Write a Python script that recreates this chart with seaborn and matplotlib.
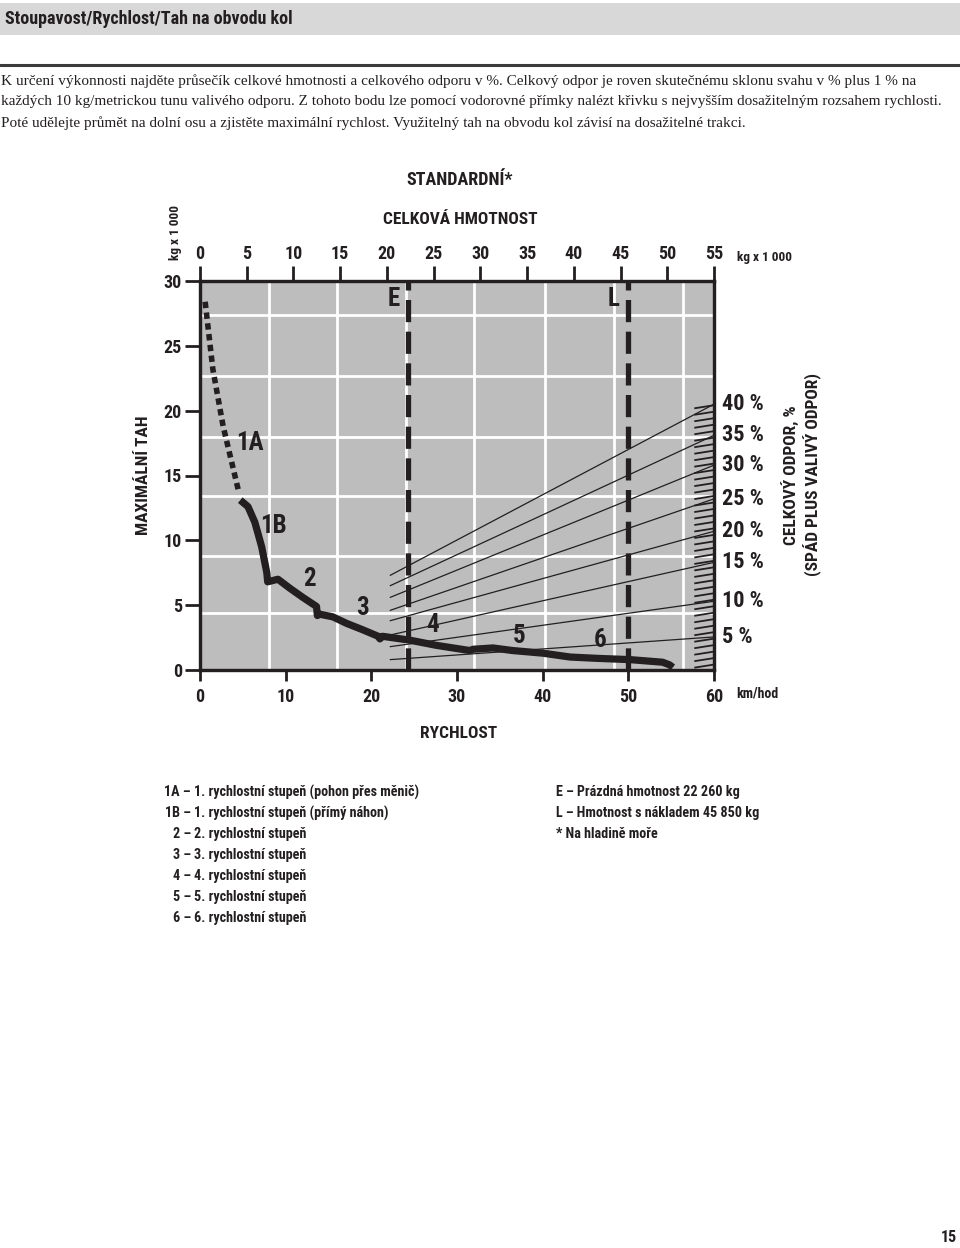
import os
import numpy as np
import pandas as pd
import matplotlib
matplotlib.use("Agg")
import matplotlib.pyplot as plt
import seaborn as sns
from matplotlib import font_manager
from matplotlib.font_manager import FontProperties
from matplotlib.patches import Rectangle
from matplotlib.lines import Line2D

# ---------------- data ----------------
speed_ticks = [0, 10, 20, 30, 40, 50, 60]
force_ticks = [0, 5, 10, 15, 20, 25, 30]
mass_ticks = [0, 5, 10, 15, 20, 25, 30, 35, 40, 45, 50, 55]

grid_speed = [8, 16, 24, 32, 40.3, 48.3, 56.4]
grid_force = [4.4, 8.8, 13.4, 18.0, 22.7, 27.4]

# 1A (torque converter) – dotted
gear1a_speed = [0.6, 1.5, 2.7, 4.5]
gear1a_force = [28.4, 23.2, 18.8, 13.8]

# 1B .. 6 – solid envelope
main_speed = [4.7, 5.6, 6.4, 7.2, 7.8, 7.8,
              7.9, 9.1, 10.5, 12.0, 13.6, 13.7,
              14.0, 15.5, 17.1, 19.0, 20.8, 21.0,
              21.3, 24.5, 27.6, 31.5,
              31.9, 34.2, 36.5, 40.0, 43.2,
              46.3, 50.2, 54.0, 54.8, 55.2]
main_force = [13.1, 12.6, 11.4, 9.5, 8.3, 6.7,
              6.8, 7.0, 6.3, 5.6, 4.9, 4.2,
              4.3, 4.1, 3.6, 3.1, 2.6, 2.4,
              2.6, 2.3, 1.9, 1.5,
              1.6, 1.7, 1.5, 1.3, 1.0,
              0.9, 0.8, 0.6, 0.4, 0.2]

gear_labels = ["1A", "1B", "2", "3", "4", "5", "6"]
gear_label_speed = [5.8, 8.6, 12.8, 19.0, 27.1, 37.3, 46.7]
gear_label_force = [17.5, 11.1, 7.0, 4.8, 3.5, 2.6, 2.3]

resist_pct = ["40 %", "35 %", "30 %", "25 %", "20 %", "15 %", "10 %", "5 %"]
resist_start_speed = 22.2
resist_end_speed = 60.0
resist_start_force = [7.3, 6.5, 5.6, 4.6, 3.8, 2.7, 1.8, 0.8]
resist_end_force = [20.5, 18.1, 15.8, 13.2, 10.7, 8.3, 5.3, 2.55]

mass_empty = 22.26   # E
mass_loaded = 45.85  # L

legend_left_keys = ["1A", "1B", "2", "3", "4", "5", "6"]
legend_left_text = ["1. rychlostní stupeň (pohon přes měnič)",
                    "1. rychlostní stupeň (přímý náhon)",
                    "2. rychlostní stupeň", "3. rychlostní stupeň",
                    "4. rychlostní stupeň", "5. rychlostní stupeň",
                    "6. rychlostní stupeň"]
legend_right_text = ["E – Prázdná hmotnost 22 260 kg",
                     "L – Hmotnost s nákladem 45 850 kg",
                     "* Na hladině moře"]

intro_lines = [
    "K určení výkonnosti najděte průsečík celkové hmotnosti a celkového odporu v %. Celkový odpor je roven skutečnému sklonu svahu v % plus 1 % na",
    "každých 10 kg/metrickou tunu valivého odporu. Z tohoto bodu lze pomocí vodorovné přímky nalézt křivku s nejvyšším dosažitelným rozsahem rychlosti.",
    "Poté udělejte průmět na dolní osu a zjistěte maximální rychlost. Využitelný tah na obvodu kol závisí na dosažitelné trakci.",
]

# ---------------- style ----------------
sns.set_theme(style="white")
plt.rcParams["font.family"] = ["Roboto", "DejaVu Sans"]

# look for a bold condensed face among installed fonts
_files = set(f.fname for f in font_manager.fontManager.ttflist)
try:
    _files |= set(font_manager.findSystemFonts())
except Exception:
    pass
_prefs = ["liberationsansnarrow-bold.", "robotocondensed-bold.", "opensans_condensed-bold",
          "opensanscondensed-bold", "dejavusanscondensed-bold.", "notosans-condensedbold",
          "notosanscondensed-bold", "roboto_condensed-bold"]
COND_FILE = None
for p in _prefs:
    for f in sorted(_files):
        if p in os.path.basename(f).lower().replace(" ", ""):
            COND_FILE = f
            break
    if COND_FILE:
        break


def FP(size):
    if COND_FILE:
        return FontProperties(fname=COND_FILE, size=size)
    return FontProperties(family=["Roboto", "DejaVu Sans"], weight="bold", size=size)


SHRINK = 1.0 if COND_FILE else 0.86

INK = "#231f20"
PLOT_BG = "#bdbdbd"

W, H = 960, 1248
fig = plt.figure(figsize=(W / 100, H / 100), dpi=100)
fig.patch.set_facecolor("white")


def fx(x):
    return x / W


def fy(y):
    return 1 - y / H


def ftext(x, y, s, size, **kw):
    return fig.text(fx(x), fy(y), s, fontproperties=FP(size * SHRINK), color=INK, **kw)


# header band + rule
fig.patches.append(Rectangle((0, fy(35)), 1, 32 / H, transform=fig.transFigure,
                             facecolor="#d8d8d8", edgecolor="none", zorder=0))
fig.add_artist(Line2D([0, 1], [fy(65), fy(65)], transform=fig.transFigure,
                      color="#3a3a3a", lw=2.2))
ftext(5, 19, "Stoupavost/Rychlost/Tah na obvodu kol", 13, va="center", ha="left")
for i, line in enumerate(intro_lines):
    fig.text(fx(1), fy(81 + 21 * i), line, fontsize=10.95, fontweight="normal",
             family=["Liberation Serif", "DejaVu Serif"], color=INK,
             va="center", ha="left")

# ---------------- main axes ----------------
ax = fig.add_axes([fx(200), fy(670), 514 / W, 389 / H])
ax.set_facecolor(PLOT_BG)
ax.set_xlim(0, 60)
ax.set_ylim(0, 30)

ax.set_xticks(speed_ticks)
ax.set_yticks(force_ticks)
ax.set_xticks(grid_speed, minor=True)
ax.set_yticks(grid_force, minor=True)
ax.grid(False, which="major")
ax.grid(True, which="minor", color="white", lw=2.0, zorder=0)
ax.set_axisbelow(True)
ax.tick_params(axis="x", which="major", direction="out", length=8, width=2,
               color=INK, labelcolor=INK, pad=5, bottom=True)
ax.tick_params(axis="y", which="major", direction="out", length=11, width=2,
               color=INK, labelcolor=INK, pad=2, left=True)
ax.tick_params(which="minor", length=0)
for lbl in ax.get_xticklabels() + ax.get_yticklabels():
    lbl.set_fontproperties(FP(13 * SHRINK))
for sp in ax.spines.values():
    sp.set_linewidth(2.3)
    sp.set_color(INK)

# resistance lines
for s0, s1 in zip(resist_start_force, resist_end_force):
    df = pd.DataFrame({"v": [resist_start_speed, resist_end_speed], "f": [s0, s1]})
    sns.lineplot(data=df, x="v", y="f", ax=ax, color=INK, lw=0.9, zorder=3)

# hatch on right edge
for yv in np.arange(0.3, 20.6, 0.5):
    ax.plot([57.7, 60], [yv - 0.12, yv + 0.12], color=INK, lw=1.3, zorder=3,
            solid_capstyle="butt")

# curves
df1a = pd.DataFrame({"v": gear1a_speed, "f": gear1a_force})
sns.lineplot(data=df1a, x="v", y="f", ax=ax, color=INK, lw=4.0, zorder=5,
             sort=False)
ax.lines[-1].set_dashes((1.15, 0.8))
ax.lines[-1].set_dash_capstyle("butt")
dfm = pd.DataFrame({"v": main_speed, "f": main_force})
sns.lineplot(data=dfm, x="v", y="f", ax=ax, color=INK, lw=5.2, zorder=5,
             sort=False)
ax.lines[-1].set_solid_joinstyle("round")
ax.lines[-1].set_solid_capstyle("butt")

for lab, sv, fv in zip(gear_labels, gear_label_speed, gear_label_force):
    ax.text(sv, fv, lab, fontproperties=FP(18 * SHRINK), color=INK, ha="center",
            va="center", zorder=6)

for lab, fv in zip(resist_pct, resist_end_force):
    ax.text(1.015, fv, lab, transform=ax.get_yaxis_transform(),
            fontproperties=FP(16 * SHRINK), color=INK, ha="left", va="center",
            clip_on=False)

ax.set_xlabel("")
ax.set_ylabel("")

# mass (top) axis
ax2 = ax.twiny()
ax2.set_xlim(0, 55)
ax2.set_xticks(mass_ticks)
ax2.tick_params(axis="x", direction="out", length=11, width=2, color=INK,
                labelcolor=INK, pad=2)
for lbl in ax2.get_xticklabels():
    lbl.set_fontproperties(FP(13 * SHRINK))
for sp in ax2.spines.values():
    sp.set_linewidth(2.3)
    sp.set_color(INK)
for mv in [mass_empty, mass_loaded]:
    ax2.axvline(mv, color=INK, lw=3.8, dashes=(4.2, 1.8), zorder=4,
                dash_capstyle="butt")
ax2.text(mass_empty - 1.5, 28.6 / 30, "E", transform=ax2.get_xaxis_transform(),
         fontproperties=FP(18 * SHRINK), color=INK, ha="center", va="center")
ax2.text(mass_loaded - 1.6, 28.6 / 30, "L", transform=ax2.get_xaxis_transform(),
         fontproperties=FP(18 * SHRINK), color=INK, ha="center", va="center")

# ---------------- annotations ----------------
ftext(460, 180, "STANDARDNÍ*", 13, ha="center", va="center")
ftext(460, 219, "CELKOVÁ HMOTNOST", 12.5, ha="center", va="center")
ftext(737, 258, "kg x 1 000", 9.5, ha="left", va="center")
ftext(176, 233, "kg x 1 000", 9.5, ha="center", va="center", rotation=90)
ftext(736, 694, "km/hod", 10, ha="left", va="center")
ftext(459, 733, "RYCHLOST", 12.5, ha="center", va="center")
ftext(143, 475, "MAXIMÁLNÍ TAH", 12.5, ha="center", va="center", rotation=90)
ftext(790, 475, "CELKOVÝ ODPOR, %", 12.5, ha="center", va="center", rotation=90)
ftext(813, 475, "(SPÁD PLUS VALIVÝ ODPOR)", 12.5, ha="center", va="center", rotation=90)

# legend block
for i, (k, t) in enumerate(zip(legend_left_keys, legend_left_text)):
    yy = 792 + 21 * i
    ftext(191, yy, k + " –", 10.2, ha="right", va="center")
    ftext(194, yy, t, 10.2, ha="left", va="center")
for i, t in enumerate(legend_right_text):
    ftext(556, 792 + 21 * i, t, 10.2, ha="left", va="center")

ftext(957, 1238, "15", 11.5, ha="right", va="center")

fig.savefig("out.png", dpi=100)
